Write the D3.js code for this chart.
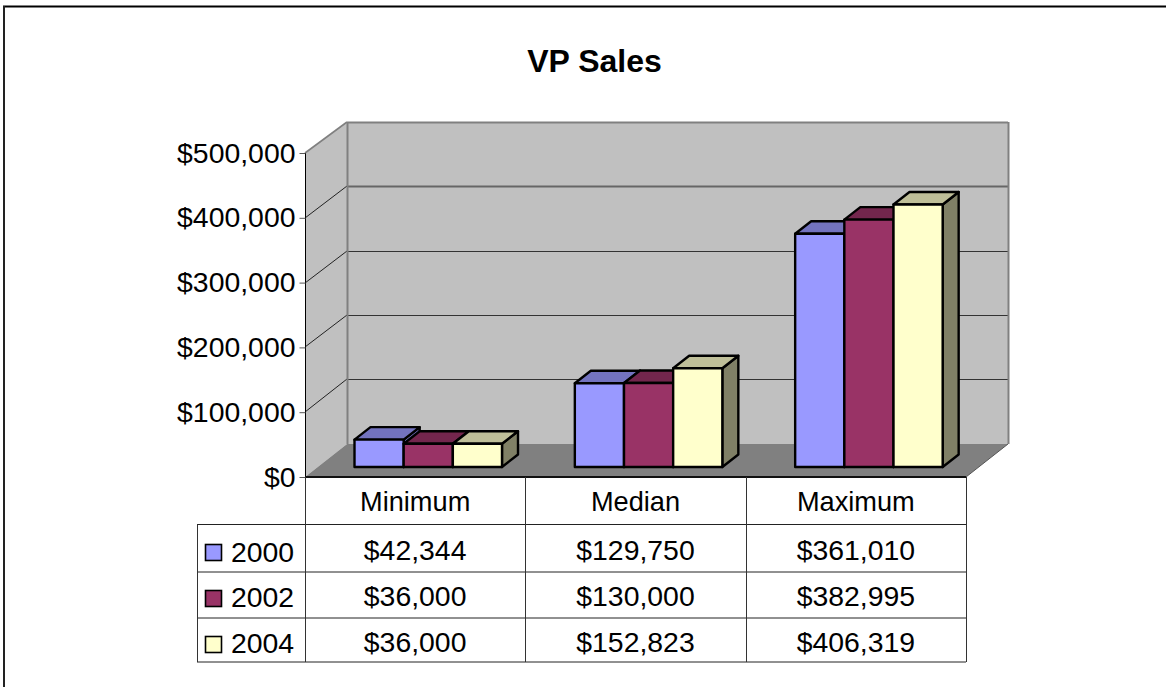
<!DOCTYPE html>
<html><head><meta charset="utf-8">
<script src="https://cdn.jsdelivr.net/npm/d3@7"></script>
<style>html,body{margin:0;padding:0;background:#fff}svg{display:block}text{font-family:"Liberation Sans",Arial,sans-serif;fill:#000}</style>
</head><body><div id="c"></div>
<script>
const title = "VP Sales";
const categories = ["Minimum","Median","Maximum"];
const years = ["2000","2002","2004"];
const values2000 = [42344,129750,361010];
const values2002 = [36000,130000,382995];
const values2004 = [36000,152823,406319];
const allValues = [values2000,values2002,values2004];
const ticks = [0,100000,200000,300000,400000,500000];
const fronts = ["#9999ff","#993366","#ffffcc"];
const tops = ["#7373bf","#73264d","#bfbf99"];
const sides = ["#7373bf","#73264d","#808066"];

const W=1166,H=687;
const svg=d3.select("#c").append("svg").attr("width",W).attr("height",H);
svg.append("line").attr("x1",3).attr("y1",6.5).attr("x2",W).attr("y2",6.5).attr("stroke","#000").attr("stroke-width",2);
svg.append("line").attr("x1",4).attr("y1",6).attr("x2",4).attr("y2",H).attr("stroke","#222").attr("stroke-width",2);

const fx0=305,fx1=966,depthX=42,depthY=33;
const y=d3.scaleLinear().domain([0,500000]).range([477,153]);
const x=d3.scaleBand().domain(categories).range([fx0,fx1]);
const fmt=d3.format("$,.0f");
const path=pts=>"M"+pts.map(p=>p.join(",")).join("L")+"Z";

const wall=svg.append("g");
wall.append("path").attr("d",path([[fx0,y(0)],[fx0,y(500000)],[fx0+depthX,y(500000)-depthY+2],[fx0+depthX,y(0)-depthY]])).attr("fill","#c0c0c0");
wall.append("rect").attr("x",fx0+depthX).attr("y",y(500000)-31).attr("width",fx1-fx0).attr("height",322).attr("fill","#c0c0c0");
wall.append("path").attr("d",path([[fx0,y(0)],[fx0+depthX,y(0)-depthY],[fx1+depthX,y(0)-depthY],[fx1,y(0)]])).attr("fill","#808080");
ticks.slice(1).forEach(t=>{
  const top=t===500000, c=top?"#808080":(t===400000?"#666":"#333");
  const yy=Math.round(y(t));
  const dy=top?31:32+(t===100000?1:0);
  wall.append("line").attr("x1",fx0).attr("y1",yy).attr("x2",fx0+depthX).attr("y2",yy-dy).attr("stroke",top?"#808080":"#222").attr("stroke-width",top?1.6:1);
  wall.append("line").attr("x1",fx0+depthX).attr("y1",yy-dy+.5).attr("x2",fx1+depthX).attr("y2",yy-dy+.5).attr("stroke",c).attr("stroke-width",top||t===400000?2:1);
});
wall.append("line").attr("x1",fx0+depthX+.5).attr("y1",y(500000)-31).attr("x2",fx0+depthX+.5).attr("y2",y(0)-depthY).attr("stroke","#808080").attr("stroke-width",2);
wall.append("line").attr("x1",fx1+depthX+.5).attr("y1",y(500000)-31).attr("x2",fx1+depthX+.5).attr("y2",y(0)-depthY).attr("stroke","#808080").attr("stroke-width",2);
wall.append("line").attr("x1",fx1).attr("y1",y(0)).attr("x2",fx1+depthX).attr("y2",y(0)-depthY).attr("stroke","#555");

const base=467,bdx=16,bdy=12.5;
const barScale=d3.scaleLinear().domain([0,500000]).range([base,base-323]);
categories.forEach((cat,ci)=>{
  const inner=d3.scaleBand().domain(years).range([x(cat)+49.5,x(cat)+197]);
  years.forEach((yr,si)=>{
    const v=allValues[si][ci], a=inner(yr), b=a+inner.bandwidth(), t=barScale(v);
    const g=svg.append("g").attr("stroke","#000").attr("stroke-width",2.4).attr("stroke-linejoin","round");
    g.append("path").attr("d",path([[b,base],[b,t],[b+bdx,t-bdy],[b+bdx,base-bdy]])).attr("fill",sides[si]);
    g.append("path").attr("d",path([[a,t],[a+bdx,t-bdy],[b+bdx,t-bdy],[b,t]])).attr("fill",tops[si]);
    g.append("rect").attr("x",a).attr("y",t).attr("width",b-a).attr("height",base-t).attr("fill",fronts[si]);
  });
});

const axis=svg.append("g").attr("transform",`translate(${fx0+.5},0)`).call(d3.axisLeft(y).tickValues(ticks).tickFormat(fmt).tickSize(6).tickPadding(4));
axis.select(".domain").attr("stroke","#000").attr("d",`M0,${y(500000)}V${y(0)}`);
axis.selectAll(".tick line").attr("stroke","#555").attr("stroke-width",1);
axis.selectAll("text").attr("font-size",28.4).attr("font-family",null).attr("dy","9px");

const rowYs=[477,524.5,572,618,662];
const colX=[197,305,525.3,745.7,966];
const tbl=svg.append("g");
const ln=(x1,y1,x2,y2,c,w)=>tbl.append("line").attr("x1",x1).attr("y1",y1).attr("x2",x2).attr("y2",y2).attr("stroke",c||"#000").attr("stroke-width",w||1);
ln(fx0,477,fx1,477,"#111",2);
rowYs.slice(1).forEach(ry=>ln(197,ry,966,ry,"#222"));
ln(197.5,524.5,197.5,662,"#333");
colX.slice(1).forEach(cx=>ln(Math.round(cx)+.5,477,Math.round(cx)+.5,662,"#333"));
categories.forEach((c,i)=>{
  const cx=(colX[i+1]+colX[i+2])/2;
  tbl.append("text").attr("x",cx).attr("y",511).attr("text-anchor","middle").attr("font-size",27.2).text(c);
  years.forEach((yr,si)=>{
    tbl.append("text").attr("x",cx).attr("y",[560,606,652][si]).attr("text-anchor","middle").attr("font-size",28.4).text(fmt(allValues[si][i]));
  });
});
years.forEach((yr,si)=>{
  const cy=[552.5,598.5,644.5][si];
  tbl.append("rect").attr("x",205.5).attr("y",cy-8).attr("width",16).attr("height",16).attr("fill",fronts[si]).attr("stroke","#000").attr("stroke-width",1.6);
  tbl.append("text").attr("x",231).attr("y",[562,607,653][si]).attr("font-size",28.4).text(yr);
});
svg.append("text").attr("x",594.5).attr("y",72).attr("text-anchor","middle").attr("font-size",32).attr("font-weight","bold").text(title);
</script></body></html>
